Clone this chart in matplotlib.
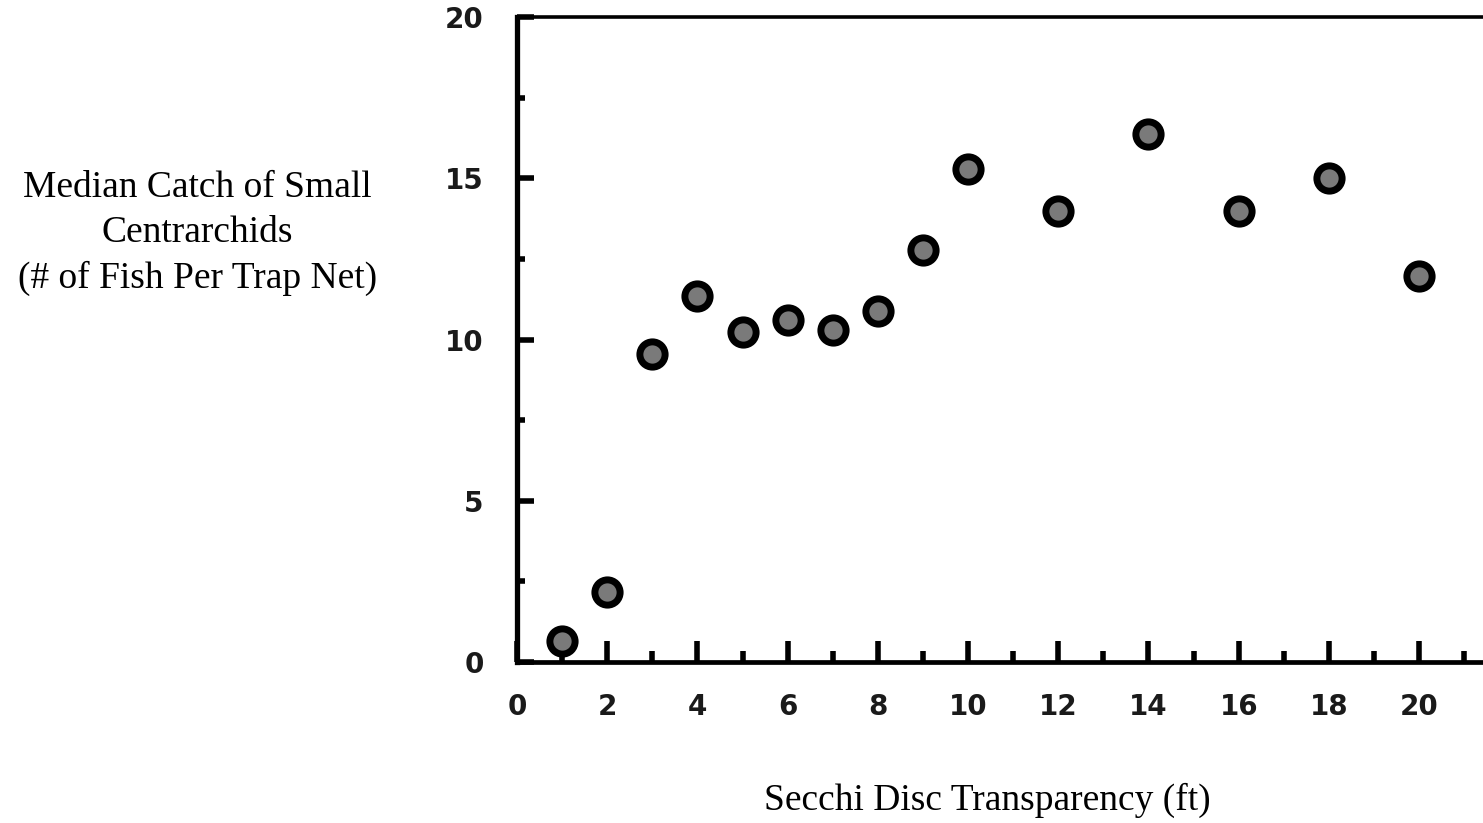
import matplotlib.pyplot as plt
from matplotlib.ticker import MultipleLocator

# median catch per trap net by secchi depth (ft)
secchi = [1, 2, 3, 4, 5, 6, 7, 8, 9, 10, 12, 14, 16, 18, 20]
catch = [0.65, 2.17, 9.55, 11.35, 10.23, 10.62, 10.3, 10.9, 12.78, 15.3,
         14.0, 16.37, 14.0, 15.0, 11.97]

x_ticks = [0, 2, 4, 6, 8, 10, 12, 14, 16, 18, 20]
y_ticks = [0, 5, 10, 15, 20]

fig = plt.figure(figsize=(14.83, 8.23), dpi=100)
ax = fig.add_axes([0.3486, 0.1956, 0.657, 0.7837])

ax.scatter(secchi, catch, s=330, facecolor='#7a7a7a', edgecolor='black',
           linewidth=5, zorder=3, clip_on=False)

ax.set_xlim(0.1, 21.6)
ax.set_ylim(0, 20)
ax.set_xticks(x_ticks)
ax.set_yticks(y_ticks)
ax.xaxis.set_minor_locator(MultipleLocator(1))
ax.yaxis.set_minor_locator(MultipleLocator(2.5))

tick_font = {'family': 'DejaVu Sans', 'weight': 'bold', 'size': 20}
ax.set_xticklabels([str(t) for t in x_ticks], fontdict=tick_font, color='#1a1a1a')
ax.set_yticklabels([str(t) for t in y_ticks], fontdict=tick_font, color='#1a1a1a')

ax.tick_params(axis='x', which='major', direction='in', length=15, width=4, pad=22)
ax.tick_params(axis='x', which='minor', direction='in', length=8, width=4)
ax.tick_params(axis='y', which='major', direction='in', length=12, width=4, pad=24)
ax.tick_params(axis='y', which='minor', direction='in', length=6, width=4)
ax.tick_params(top=False, right=False, which='both')

ax.spines['left'].set_linewidth(3.8)
ax.spines['bottom'].set_linewidth(3.4)
ax.spines['top'].set_linewidth(2.6)
ax.spines['right'].set_visible(False)

serif = ['Liberation Serif', 'DejaVu Serif']
fig.text(0.133, 0.717, 'Median Catch of Small\nCentrarchids\n(# of Fish Per Trap Net)',
         ha='center', va='center', fontsize=27, family=serif, linespacing=1.4)
fig.text(0.666, 0.027, 'Secchi Disc Transparency (ft)', ha='center', va='center',
         fontsize=27, family=serif)

plt.savefig('out.png', dpi=100)
